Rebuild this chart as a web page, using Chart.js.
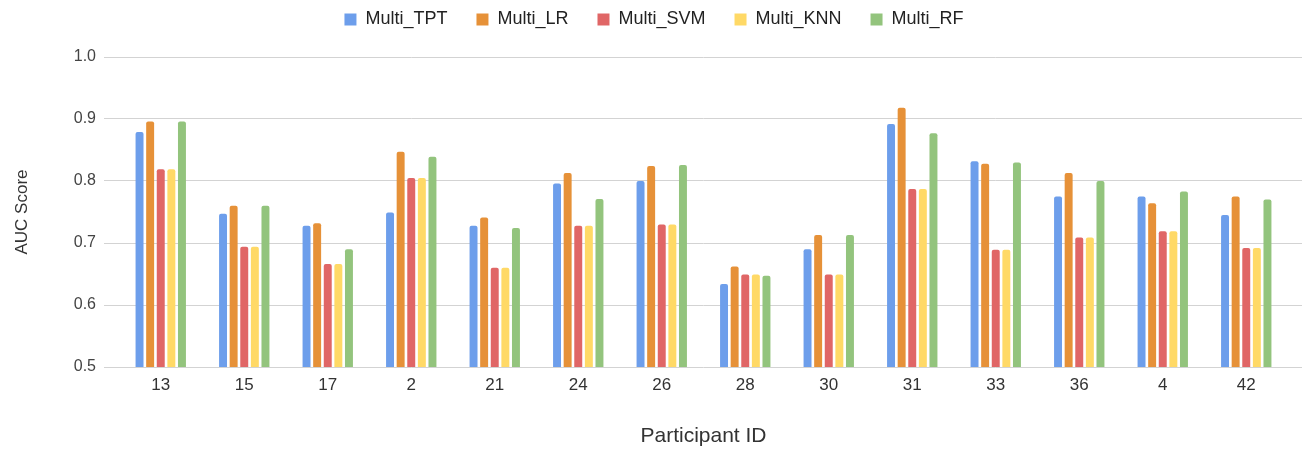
<!DOCTYPE html>
<html>
<head>
<meta charset="utf-8">
<script src="https://cdn.jsdelivr.net/npm/chart.js@4.4.1/dist/chart.umd.min.js"></script>
<style>
  html, body { margin: 0; padding: 0; background: #ffffff; }
  #wrap { width: 1304px; height: 453px; }
</style>
</head>
<body>
<div id="wrap"><canvas id="chart" width="1304" height="453"></canvas></div>
<script>
// Participant IDs along the x axis
const categories = ['13', '15', '17', '2', '21', '24', '26', '28', '30', '31', '33', '36', '4', '42'];

// AUC score per participant for each multi-modal model
const multiTPT = [0.879, 0.747, 0.728, 0.749, 0.728, 0.796, 0.800, 0.634, 0.690, 0.892, 0.832, 0.775, 0.775, 0.745];
const multiLR  = [0.896, 0.760, 0.732, 0.847, 0.741, 0.813, 0.824, 0.662, 0.713, 0.918, 0.828, 0.813, 0.764, 0.775];
const multiSVM = [0.819, 0.694, 0.666, 0.805, 0.660, 0.728, 0.730, 0.649, 0.649, 0.787, 0.689, 0.709, 0.719, 0.692];
const multiKNN = [0.819, 0.694, 0.666, 0.805, 0.660, 0.728, 0.730, 0.649, 0.649, 0.787, 0.689, 0.709, 0.719, 0.692];
const multiRF  = [0.896, 0.760, 0.690, 0.839, 0.724, 0.771, 0.826, 0.647, 0.713, 0.877, 0.830, 0.800, 0.783, 0.770];

// Value axis ticks
const yTicks = [0.5, 0.6, 0.7, 0.8, 0.9, 1.0];

const seriesNames = ['Multi_TPT', 'Multi_LR', 'Multi_SVM', 'Multi_KNN', 'Multi_RF'];
const seriesColors = ['#6d9eeb', '#e69138', '#e06666', '#ffd966', '#93c47d'];
const seriesValues = [multiTPT, multiLR, multiSVM, multiKNN, multiRF];

const GRID = '#d3d3d3';
const FONT = "'Liberation Sans', Arial, sans-serif";

// Extends the horizontal grid lines a little past the plot's right edge
const gridTail = {
  id: 'gridTail',
  beforeDatasetsDraw(chart) {
    const { ctx, chartArea, scales } = chart;
    const y = scales.y;
    ctx.save();
    ctx.strokeStyle = GRID;
    ctx.lineWidth = 1;
    y.ticks.forEach(t => {
      const py = Math.floor(y.getPixelForValue(t.value)) + 0.5;
      ctx.beginPath();
      ctx.moveTo(chartArea.right, py);
      ctx.lineTo(chartArea.right + 14, py);
      ctx.stroke();
    });
    ctx.restore();
  }
};

// Reserves room under the legend and centres it on the full canvas width
const legendBox = {
  id: 'legendBox',
  beforeLayout(chart) {
    const lg = chart.legend;
    if (lg && !lg._sized) {
      const fit = lg.fit;
      lg.fit = function () { fit.call(this); this.height = 75.5; };
      lg._sized = true;
    }
  },
  afterLayout(chart) {
    const lg = chart.legend;
    if (lg) { lg.left += 10; lg.right += 10; }
  }
};

new Chart(document.getElementById('chart'), {
  type: 'bar',
  data: {
    labels: categories,
    datasets: seriesNames.map((name, i) => ({
      label: name,
      data: seriesValues[i],
      backgroundColor: seriesColors[i],
      borderWidth: 0,
      borderRadius: { topLeft: 2, topRight: 2, bottomLeft: 0, bottomRight: 0 },
      borderSkipped: 'bottom',
      categoryPercentage: 0.635,
      barPercentage: 0.75
    }))
  },
  options: {
    responsive: false,
    animation: false,
    layout: { padding: { top: -18.5, right: 16, bottom: 0, left: 0 } },
    plugins: {
      tooltip: { enabled: false },
      legend: {
        position: 'top',
        align: 'center',
        labels: {
          boxWidth: 12,
          boxHeight: 12,
          padding: 29,
          color: '#222222',
          font: { family: FONT, size: 18 }
        }
      }
    },
    scales: {
      x: {
        grid: { display: false, drawTicks: false },
        border: { display: false },
        ticks: {
          color: '#333333',
          font: { family: FONT, size: 17 },
          padding: 8,
          maxRotation: 0,
          autoSkip: false
        },
        title: {
          display: true,
          text: 'Participant ID',
          color: '#333333',
          font: { family: FONT, size: 21 },
          padding: { top: 0, bottom: 4 }
        },
        afterFit(scale) { scale.height = 86; }
      },
      y: {
        min: 0.5,
        max: 1.0,
        afterBuildTicks(scale) { scale.ticks = yTicks.map(v => ({ value: v })); },
        grid: { color: GRID, tickColor: GRID, tickLength: 15, drawTicks: true, lineWidth: 1 },
        border: { display: false },
        ticks: {
          color: '#444444',
          font: { family: FONT, size: 16 },
          padding: 8,
          callback: v => Number(v).toFixed(1)
        },
        title: {
          display: true,
          text: 'AUC Score',
          color: '#333333',
          font: { family: FONT, size: 17 },
          padding: { top: 12, bottom: 0 }
        },
        afterFit(scale) { scale.width = 119; }
      }
    }
  },
  plugins: [gridTail, legendBox]
});
</script>
</body>
</html>
